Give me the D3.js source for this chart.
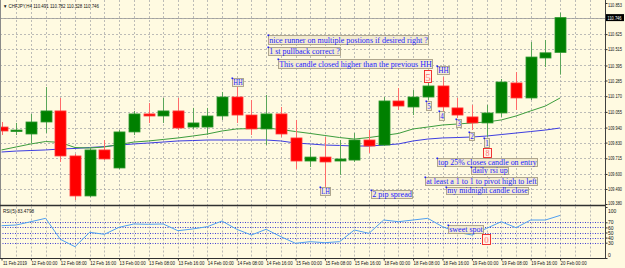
<!DOCTYPE html>
<html>
<head>
<meta charset="utf-8">
<script src="https://cdn.jsdelivr.net/npm/d3@7"></script>
<style>
html, body { margin: 0; padding: 0; background: #fffae1; }
svg { display: block; }
</style>
</head>
<body>
<svg id="svg"></svg>
<script>
// CHFJPY H4 bars, oldest first
const symbol = "CHFJPY,H4";
const opens  = [109.944, 109.915, 109.893, 109.981, 110.062, 109.732, 109.439, 109.776, 109.644, 109.908, 110.040, 110.025, 110.062, 109.944, 109.944, 110.025, 110.164, 110.032, 109.930, 110.040, 109.864, 109.695, 109.724, 109.695, 109.702, 109.849, 109.812, 110.135, 110.091, 110.164, 110.245, 110.084, 110.018, 109.974, 110.047, 110.267, 110.157, 110.450, 110.491];
const highs  = [109.981, 109.974, 110.040, 110.237, 110.157, 109.746, 109.798, 109.849, 109.922, 110.062, 110.120, 110.157, 110.157, 110.084, 110.084, 110.201, 110.237, 110.142, 110.179, 110.091, 109.996, 109.798, 109.871, 109.849, 109.900, 109.922, 110.164, 110.230, 110.215, 110.267, 110.311, 110.157, 110.106, 110.106, 110.296, 110.347, 110.567, 110.582, 110.782];
const lows   = [109.886, 109.886, 109.827, 109.900, 109.688, 109.409, 109.431, 109.702, 109.636, 109.886, 109.974, 109.974, 109.922, 109.930, 109.886, 109.996, 109.974, 109.886, 109.812, 109.871, 109.637, 109.651, 109.505, 109.593, 109.688, 109.754, 109.805, 110.069, 110.032, 110.142, 110.054, 110.010, 109.922, 109.871, 110.018, 110.069, 110.142, 110.384, 110.328];
const closes = [109.915, 109.922, 109.981, 110.062, 109.732, 109.439, 109.776, 109.710, 109.908, 110.040, 110.025, 110.062, 109.937, 109.974, 110.025, 110.164, 110.032, 109.930, 110.040, 109.893, 109.695, 109.724, 109.688, 109.710, 109.849, 109.805, 110.135, 110.098, 110.164, 110.245, 110.091, 110.032, 109.974, 110.047, 110.274, 110.157, 110.457, 110.488, 110.746];

// moving averages (green = fast, blue = slow)
const maFast = [109.776, 109.798, 109.820, 109.838, 109.831, 109.794, 109.790, 109.798, 109.816, 109.834, 109.842, 109.853, 109.864, 109.878, 109.893, 109.915, 109.930, 109.933, 109.937, 109.926, 109.911, 109.897, 109.882, 109.867, 109.856, 109.867, 109.882, 109.897, 109.930, 109.944, 109.959, 109.966, 109.974, 109.981, 109.996, 110.025, 110.062, 110.098, 110.157];
const maSlow = [109.761, 109.768, 109.772, 109.776, 109.783, 109.787, 109.794, 109.801, 109.812, 109.820, 109.827, 109.834, 109.842, 109.845, 109.849, 109.849, 109.849, 109.849, 109.849, 109.842, 109.827, 109.820, 109.812, 109.809, 109.805, 109.805, 109.812, 109.820, 109.842, 109.856, 109.864, 109.867, 109.871, 109.878, 109.889, 109.900, 109.911, 109.922, 109.937];

// RSI(5)
const rsi = [63.3, 64.7, 71.2, 77.8, 36.7, 22.2, 50.4, 46.5, 60.2, 66.7, 66.1, 66.7, 53.5, 56.9, 61.4, 72.5, 56.3, 45.1, 56.3, 41.8, 28.8, 32.0, 30.0, 32.0, 54.9, 48.4, 74.5, 71.2, 74.5, 77.8, 61.4, 50.4, 45.1, 58.2, 71.2, 59.4, 74.5, 74.5, 83.4798];
const rsiLevels = [70, 60, 50, 40, 30];
const rsiTicks = [100, 70, 60, 50, 40, 30, 0];

// axis labels
const priceTicks = [110.853, 110.740, 110.625, 110.515, 110.395, 110.285, 110.170, 110.055, 109.940, 109.830, 109.715, 109.600, 109.490, 109.380];
const timeLabels = ["11 Feb 2019", "12 Feb 00:00", "12 Feb 08:00", "12 Feb 16:00", "13 Feb 00:00", "13 Feb 08:00", "13 Feb 16:00", "14 Feb 00:00", "14 Feb 08:00", "14 Feb 16:00", "15 Feb 00:00", "15 Feb 08:00", "15 Feb 16:00", "18 Feb 00:00", "18 Feb 08:00", "18 Feb 16:00", "19 Feb 00:00", "19 Feb 08:00", "19 Feb 16:00", "20 Feb 00:00"];
const timeLabelBars = d3.range(0, 39, 2);

// text objects placed on the chart (box left, top, width, height)
const notes = [
    { text: "nice runner on multiple postions if desired right ?", x: 268, y: 35, w: 160, h: 9 },
    { text: "1 st pullback correct ?", x: 268, y: 47, w: 72, h: 8 },
    { text: "This candle closed higher than the previous HH", x: 278, y: 59, w: 154, h: 9 },
    { text: "HH", x: 232, y: 78, w: 11, h: 8 },
    { text: "HH", x: 437, y: 66, w: 12, h: 8 },
    { text: "LH", x: 320, y: 187, w: 10, h: 8 },
    { text: "2 pip spread", x: 371, y: 190, w: 41, h: 8 },
    { text: "5", x: 426, y: 101, w: 5, h: 9 },
    { text: "4", x: 439, y: 111, w: 5, h: 9 },
    { text: "3", x: 456, y: 119, w: 5, h: 8 },
    { text: "2", x: 469, y: 132, w: 5, h: 8 },
    { text: "1", x: 484, y: 138, w: 5, h: 9 },
    { text: "top 25% closes candle on entry", x: 437, y: 158, w: 100, h: 8 },
    { text: "daily rsi up", x: 471, y: 167, w: 37, h: 7 },
    { text: "at least a 1 to 1 to pivot high to left", x: 425, y: 177, w: 112, h: 8 },
    { text: "my midnight candle close", x: 446, y: 187, w: 82, h: 7 },
    { text: "sweet spot", x: 448, y: 225, w: 35, h: 8 }
];
const redMarks = [
    { text: "5", x: 424, y: 70, w: 7, h: 12 },
    { text: "8", x: 483, y: 148, w: 8, h: 9 },
    { text: "0", x: 482, y: 234, w: 8, h: 10 }
];

const width = 625;
const height = 268;
const plotRight = 605;
const mainBottom = 205.5;
const rsiTop = 206.5;
const rsiBottom = 258;
const axisFont = "'Liberation Sans', Arial, sans-serif";
const noteFont = "'Liberation Serif', 'Times New Roman', serif";

let svg = d3.select("#svg").attr("width", width).attr("height", height);

let xScale = d3.scaleLinear().domain([0, 38]).range([1.5, 560.1]);
let yScale = d3.scaleLinear().domain([109.380, 110.853]).range([204, 3]);
let rsiScale = d3.scaleLinear().domain([0, 100]).range([258, 207]);

function drawBackground() {
    svg.append("rect").attr("width", width).attr("height", height).attr("fill", "#fffae1");

    svg.append("clipPath").attr("id", "main-clip")
        .append("rect").attr("x", 1).attr("y", 0).attr("width", plotRight - 1).attr("height", mainBottom);
    svg.append("clipPath").attr("id", "rsi-clip")
        .append("rect").attr("x", 1).attr("y", rsiTop).attr("width", plotRight - 1).attr("height", rsiBottom - rsiTop);
}

function drawGrid() {
    const grid = svg.append("g")
        .attr("stroke", "#acacac")
        .attr("stroke-width", 0.8)
        .attr("stroke-dasharray", "2,2");

    const gridBars = d3.range(1, 41);
    grid.selectAll(".vmain").data(gridBars).enter().append("line")
        .attr("x1", d => Math.round(xScale(d)) + 0.5)
        .attr("x2", d => Math.round(xScale(d)) + 0.5)
        .attr("y1", 0).attr("y2", mainBottom);
    grid.selectAll(".vrsi").data(gridBars).enter().append("line")
        .attr("x1", d => Math.round(xScale(d)) + 0.5)
        .attr("x2", d => Math.round(xScale(d)) + 0.5)
        .attr("y1", rsiTop).attr("y2", rsiBottom);

    grid.selectAll(".hmain").data(priceTicks.slice(1, -1)).enter().append("line")
        .attr("x1", 0).attr("x2", plotRight)
        .attr("y1", d => Math.round(yScale(d)) + 0.5)
        .attr("y2", d => Math.round(yScale(d)) + 0.5);

    // rsi levels
    svg.append("g")
        .attr("stroke", "#2a2ad0")
        .attr("stroke-width", 0.9)
        .attr("stroke-dasharray", "1,1.5")
        .selectAll("line").data(rsiLevels).enter().append("line")
        .attr("x1", 0).attr("x2", plotRight)
        .attr("y1", d => Math.round(rsiScale(d)) + 0.5)
        .attr("y2", d => Math.round(rsiScale(d)) + 0.5);
}

function drawCandles() {
    const bars = d3.range(opens.length).map(i => ({
        i: i, o: opens[i], h: highs[i], l: lows[i], c: closes[i]
    }));
    const g = svg.append("g").attr("clip-path", "url(#main-clip)");
    const bodyW = 11;

    g.selectAll(".wick").data(bars).enter().append("line")
        .attr("x1", d => Math.round(xScale(d.i)) + 0.5)
        .attr("x2", d => Math.round(xScale(d.i)) + 0.5)
        .attr("y1", d => yScale(d.h))
        .attr("y2", d => yScale(d.l))
        .attr("stroke", d => d.c >= d.o ? "#5aa65a" : "#ff6a6a")
        .attr("stroke-width", 1);

    g.selectAll(".body").data(bars).enter().append("rect")
        .attr("x", d => Math.round(xScale(d.i)) + 0.5 - bodyW / 2)
        .attr("y", d => yScale(Math.max(d.o, d.c)))
        .attr("width", bodyW)
        .attr("height", d => Math.max(1.5, Math.abs(yScale(d.o) - yScale(d.c))))
        .attr("fill", d => d.c >= d.o ? "#008000" : "#ff0000")
        .attr("stroke", d => d.c >= d.o ? "#2e962e" : "#ff3b3b")
        .attr("stroke-width", 0.8);
}

function drawAverages() {
    const g = svg.append("g").attr("clip-path", "url(#main-clip)");
    const line = d3.line().x((d, i) => xScale(i)).y(d => yScale(d));
    g.append("path").attr("d", line(maSlow)).attr("fill", "none")
        .attr("stroke", "#3d3de0").attr("stroke-width", 1);
    g.append("path").attr("d", line(maFast)).attr("fill", "none")
        .attr("stroke", "#3c9c3c").attr("stroke-width", 1);

    // bid line
    svg.append("line")
        .attr("x1", 0).attr("x2", plotRight)
        .attr("y1", Math.round(yScale(closes[closes.length - 1])) + 0.5)
        .attr("y2", Math.round(yScale(closes[closes.length - 1])) + 0.5)
        .attr("stroke", "#9a9a9a").attr("stroke-width", 0.8);
}

function drawRsi() {
    const g = svg.append("g").attr("clip-path", "url(#rsi-clip)");
    const line = d3.line().x((d, i) => xScale(i)).y(d => rsiScale(d));
    g.append("path").attr("d", line(rsi)).attr("fill", "none")
        .attr("stroke", "#4f9ff0").attr("stroke-width", 1);
}

function styleAxisText(sel, len) {
    sel.attr("font-size", 5).attr("font-family", axisFont).attr("fill", "#111");
    if (len) sel.attr("textLength", len).attr("lengthAdjust", "spacingAndGlyphs");
    return sel;
}

function drawAxes() {
    // frame
    svg.append("line").attr("x1", 0.5).attr("x2", 0.5).attr("y1", 0).attr("y2", rsiBottom)
        .attr("stroke", "#8a8a8a").attr("stroke-width", 1);
    svg.append("line").attr("x1", plotRight + 0.5).attr("x2", plotRight + 0.5).attr("y1", 0).attr("y2", rsiBottom)
        .attr("stroke", "#404040").attr("stroke-width", 1);
    svg.append("line").attr("x1", 0).attr("x2", plotRight).attr("y1", mainBottom).attr("y2", mainBottom)
        .attr("stroke", "#303030").attr("stroke-width", 1.6);
    svg.append("line").attr("x1", 0).attr("x2", plotRight + 1).attr("y1", rsiBottom + 0.5).attr("y2", rsiBottom + 0.5)
        .attr("stroke", "#303030").attr("stroke-width", 1.2);

    // price axis
    const yAxis = svg.append("g")
        .attr("transform", `translate(${plotRight + 0.5},0)`)
        .call(d3.axisRight(yScale).tickValues(priceTicks).tickSize(2).tickPadding(0.5)
            .tickFormat(d3.format(".3f")));
    yAxis.select(".domain").remove();
    styleAxisText(yAxis.selectAll("text"), 14);
    yAxis.selectAll("line").attr("stroke", "#333");
    yAxis.selectAll(".tick").filter(d => d === priceTicks[0]).select("text").attr("dy", "0.6em");
    yAxis.selectAll(".tick").filter(d => d === priceTicks[priceTicks.length - 1]).select("text").attr("dy", "0.1em");

    // current price tag
    const last = closes[closes.length - 1];
    const py = yScale(last);
    svg.append("rect").attr("x", plotRight + 1).attr("y", py - 3.5).attr("width", 18).attr("height", 7)
        .attr("fill", "#000");
    styleAxisText(svg.append("text").attr("x", plotRight + 2.5).attr("y", py + 2)
        .text(d3.format(".3f")(last)), 14).attr("fill", "#fff");

    // rsi axis
    const rAxis = svg.append("g")
        .attr("transform", `translate(${plotRight + 0.5},0)`)
        .call(d3.axisRight(rsiScale).tickValues(rsiTicks).tickSize(2).tickPadding(0.5));
    rAxis.select(".domain").remove();
    styleAxisText(rAxis.selectAll("text"));
    rAxis.selectAll("line").attr("stroke", "#333");
    rAxis.selectAll(".tick").filter(d => d === 100).select("text").attr("dy", "1em");
    rAxis.selectAll(".tick").filter(d => d === 0).select("text").attr("dy", "-0.3em");

    // time axis
    const xAxis = svg.append("g")
        .attr("transform", `translate(0,${rsiBottom + 0.5})`)
        .call(d3.axisBottom(xScale).tickValues(timeLabelBars).tickSize(2).tickPadding(1)
            .tickFormat((d, i) => timeLabels[i]));
    xAxis.select(".domain").remove();
    styleAxisText(xAxis.selectAll("text"));
    xAxis.selectAll("text")
        .attr("textLength", (d, i) => i === 0 ? 24 : 26).attr("lengthAdjust", "spacingAndGlyphs")
        .attr("text-anchor", "start").attr("dx", 0).attr("x", (d, i) => i === 0 ? 1 : 0);
    xAxis.selectAll("line").attr("stroke", "#333");

    // headers
    styleAxisText(svg.append("text").attr("x", 3).attr("y", 7.5)
        .text("\u25BC " + symbol + "  " + [opens, highs, lows, closes]
            .map(a => d3.format(".3f")(a[a.length - 1])).join(" ")), 96);
    styleAxisText(svg.append("text").attr("x", 3).attr("y", 212.5)
        .text("RSI(5) " + d3.format(".4f")(rsi[rsi.length - 1])), 31);
}

function drawNotes() {
    const g = svg.append("g");
    const n = g.selectAll(".note").data(notes).enter().append("g");
    n.append("rect")
        .attr("x", d => d.x + 0.5).attr("y", d => d.y + 0.5)
        .attr("width", d => d.w).attr("height", d => d.h)
        .attr("fill", "#f3ebcf").attr("stroke", "#a79e86").attr("stroke-width", 0.9);
    n.append("text")
        .attr("x", d => d.x + 1.2).attr("y", d => d.y + d.h - 1.3)
        .attr("font-size", d => d.h >= 8 ? 8 : 7.4)
        .attr("font-family", noteFont).attr("fill", "#1c1cff")
        .attr("textLength", d => d.w - 1.4).attr("lengthAdjust", "spacingAndGlyphs")
        .text(d => d.text);
    n.append("rect")
        .attr("x", d => d.x - 0.5).attr("y", d => d.y - 0.5)
        .attr("width", 1.6).attr("height", 1.6).attr("fill", "#1c1cff");

    const r = g.selectAll(".mark").data(redMarks).enter().append("g");
    r.append("rect")
        .attr("x", d => d.x + 0.5).attr("y", d => d.y + 0.5)
        .attr("width", d => d.w).attr("height", d => d.h)
        .attr("fill", "#fff2e6").attr("stroke", "#f02020").attr("stroke-width", 0.9);
    r.append("text")
        .attr("x", d => d.x + d.w / 2 + 0.5).attr("y", d => d.y + d.h - 1.5)
        .attr("text-anchor", "middle")
        .attr("font-size", d => d.h - 1).attr("font-family", noteFont).attr("fill", "#ff7070")
        .text(d => d.text);
}

drawBackground();
drawGrid();
drawAverages();
drawCandles();
drawRsi();
drawAxes();
drawNotes();
</script>
</body>
</html>
